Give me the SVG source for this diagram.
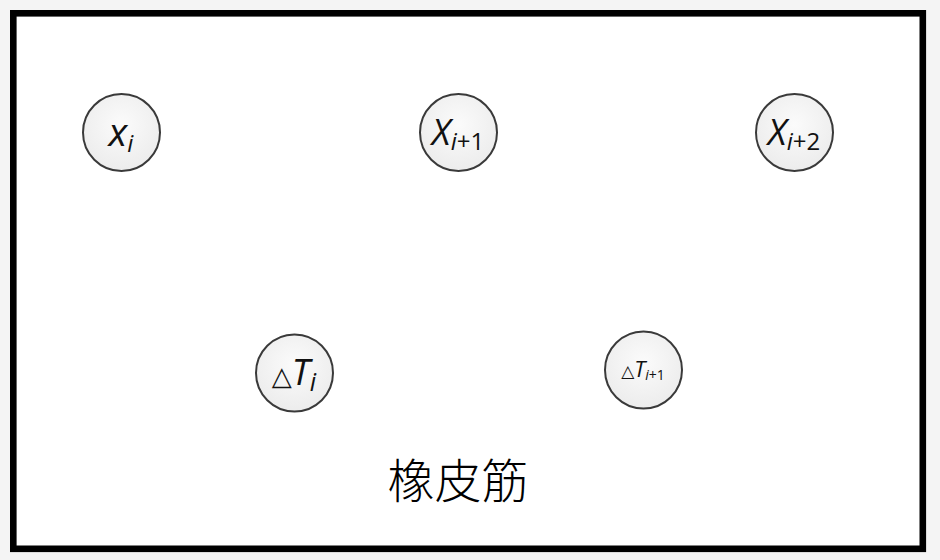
<svg xmlns="http://www.w3.org/2000/svg" width="940" height="560" viewBox="0 0 940 560">
<defs>
<radialGradient id="g" cx="50%" cy="40%" r="60%">
<stop offset="0" stop-color="#fbfbfb"/>
<stop offset="1" stop-color="#ececec"/>
</radialGradient>
<style>
.n{fill:url(#g);stroke:#3a3a3a;stroke-width:2}
.t{font-family:"Open Sans","Liberation Sans",sans-serif;fill:#111}
.it{font-style:italic}
</style>
</defs>
<rect x="0" y="0" width="940" height="560" fill="#f4f4f4"/>
<rect x="13.3" y="13.3" width="909.5" height="535.5" fill="#fff" stroke="#000" stroke-width="6.6"/>
<g id="connectors"/>
<g id="xi">
<circle class="n" cx="121.5" cy="132.5" r="38.5"/>
<text class="t" x="121" y="146" text-anchor="middle" font-size="39"><tspan class="it">x</tspan><tspan class="it" font-size="24" dy="6">i</tspan></text>
</g>
<g id="xi1">
<circle class="n" cx="458.5" cy="132.5" r="38.5"/>
<text class="t" x="458" y="145" text-anchor="middle" font-size="36"><tspan class="it">X</tspan><tspan font-size="24" dy="5"><tspan class="it">i</tspan>+1</tspan></text>
</g>
<g id="xi2">
<circle class="n" cx="794.5" cy="132.5" r="38.5"/>
<text class="t" x="794" y="145" text-anchor="middle" font-size="36"><tspan class="it">X</tspan><tspan font-size="24" dy="5"><tspan class="it">i</tspan>+2</tspan></text>
</g>
<g id="ti">
<circle class="n" cx="294.5" cy="373" r="38.5"/>
<text class="t" x="294" y="385" text-anchor="middle" font-size="36"><tspan font-size="26" font-family="DejaVu Sans">△</tspan><tspan class="it">T</tspan><tspan class="it" font-size="25" dy="6">i</tspan></text>
</g>
<g id="ti1">
<circle class="n" cx="643.5" cy="370" r="38.5"/>
<text class="t" x="643" y="377" text-anchor="middle" font-size="22"><tspan font-size="17" font-family="DejaVu Sans">△</tspan><tspan class="it">T</tspan><tspan font-size="14" dy="3"><tspan class="it">i</tspan>+1</tspan></text>
</g>
<text x="458" y="498" text-anchor="middle" font-size="47" font-family="'Noto Sans CJK SC',sans-serif" font-weight="300" fill="#000">橡皮筋</text>
</svg>
